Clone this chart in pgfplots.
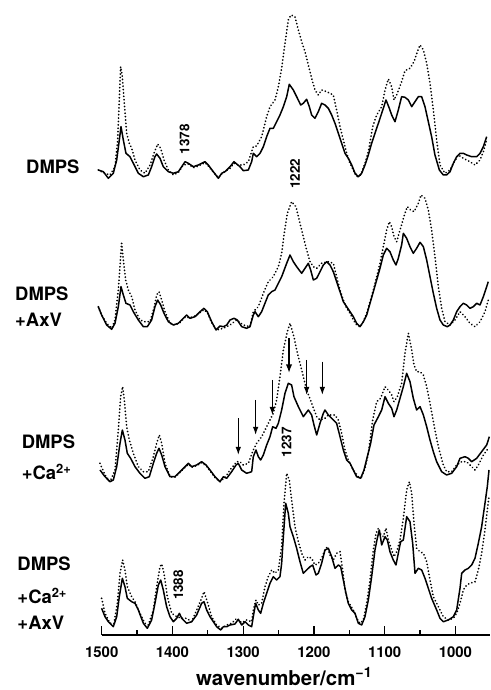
\documentclass[border=0pt]{standalone}
\usepackage{fontspec}
\setmainfont{TeX Gyre Heros}
\usepackage{pgfplots}
\pgfplotsset{compat=1.18}
\usetikzlibrary{arrows.meta}

\pgfplotsset{
  sol/.style={black, line width=1.5pt, line join=round, no marks},
  dot/.style={black, line width=1.85pt, line cap=round, line join=round,
    dash pattern=on 0.1pt off 3.3pt, no marks},
}
\tikzset{
  lbl/.style={anchor=base west, font=\fontsize{18.5}{21}\selectfont\bfseries},
  peak/.style={rotate=90, font=\fontsize{13.5}{15}\selectfont\bfseries},
}

\begin{document}
\begin{tikzpicture}
\begin{axis}[
  at={(0,0)}, anchor=south west, scale only axis,
  width=388.3bp, height=635bp,
  xmin=951.1, xmax=1500, x dir=reverse,
  ymin=0, ymax=635,
  axis x line*=bottom, axis y line=none,
  axis line style={line width=1.2pt},
  xtick={1000,1100,1200,1300,1400,1500},
  minor xtick={1050,1150,1250,1350,1450},
  tick align=inside,
  major tick length=9bp, minor tick length=5bp,
  tick style={black, line width=1.2pt},
  /pgf/number format/assume math mode=true,
  /pgf/number format/1000 sep={},
  xticklabel style={anchor=base, yshift=-22.5bp,
    font=\fontsize{15}{18}\selectfont\bfseries},
  xlabel={wavenumber/cm\textsuperscript{−1}},
  xlabel style={at={(axis description cs:0.47,0)}, anchor=base, yshift=-50bp,
    font=\fontsize{20.5}{24}\selectfont\bfseries},
  clip=false,
]

% ---- DMPS ----
\addplot[sol] coordinates {
(1504.8,465.0) (1497.7,463.3) (1490.6,456.7) (1483.6,461.7) (1478.8,475.0)
(1475.1,495.0) (1472.7,508.3) (1469.4,495.0) (1465.7,481.7) (1460.0,478.3)
(1455.3,471.7) (1448.2,461.7) (1441.1,458.3) (1434.1,460.0) (1429.4,468.3)
(1424.7,478.3) (1422.3,481.0) (1417.6,476.7) (1412.9,468.3) (1405.8,463.3)
(1398.7,461.7) (1391.6,463.3) (1386.9,468.3) (1382.2,473.3) (1377.5,471.7)
(1370.5,468.3) (1363.4,470.0) (1354.0,473.3) (1349.3,470.0) (1342.2,463.3)
(1335.1,456.7) (1330.4,461.7) (1325.7,463.3) (1318.6,468.3) (1313.0,473.3)
(1309.2,471.0) (1304.5,468.3) (1299.8,464.3) (1292.7,465.0) (1288.0,473.3)
(1285.7,481.7) (1281.0,478.3) (1276.2,481.7) (1271.5,488.3) (1266.8,498.3)
(1262.1,506.7) (1257.4,506.7) (1252.7,513.3) (1248.0,520.0) (1243.2,528.3)
(1238.5,538.3) (1234.8,550.7) (1229.1,545.0) (1224.4,538.3) (1218.7,530.0)
(1215.0,531.7) (1210.3,535.7) (1206.5,528.3) (1203.2,520.0) (1198.5,516.7)
(1193.8,523.3) (1189.1,531.7) (1184.4,530.0) (1179.6,526.7) (1174.9,520.0)
(1170.2,511.7) (1165.5,501.7) (1160.8,491.7) (1156.1,481.7) (1151.4,476.7)
(1146.6,470.0) (1141.9,461.7) (1137.2,458.3) (1132.5,461.7) (1127.8,470.0)
(1123.1,480.0) (1118.4,491.7) (1113.7,501.7) (1108.9,511.7) (1104.2,521.7)
(1098.1,535.0) (1093.4,526.7) (1090.1,520.0) (1085.4,513.3) (1080.7,525.0)
(1076.0,538.3) (1071.3,537.7) (1066.5,535.0) (1061.8,528.3) (1057.1,533.3)
(1052.4,538.3) (1047.7,538.3) (1043.0,528.3) (1038.3,513.3) (1033.6,498.3)
(1028.9,480.0) (1022.7,465.0) (1017.1,460.0) (1012.4,460.0) (1007.6,463.3)
(1002.9,471.7) (998.2,478.3) (993.5,481.7) (988.8,481.7) (984.1,480.0)
(977.0,478.3) (969.9,478.3) (965.2,481.7) (960.5,488.3) (955.8,498.3)
};
\addplot[dot] coordinates {
(1504.8,465.0) (1497.7,462.3) (1488.3,460.0) (1481.2,468.3) (1477.4,495.0)
(1475.1,535.0) (1473.2,568.3) (1470.8,558.3) (1468.0,531.7) (1464.7,501.7)
(1460.9,491.7) (1457.6,486.7) (1452.9,475.0) (1445.9,465.0) (1438.8,461.7)
(1431.7,470.0) (1426.1,481.7) (1420.9,491.0) (1416.6,486.7) (1411.9,475.0)
(1405.8,465.0) (1398.7,460.0) (1391.6,462.7) (1384.6,470.0) (1377.5,471.0)
(1370.5,467.3) (1363.4,469.0) (1354.0,472.3) (1349.3,469.0) (1342.2,462.7)
(1335.1,457.3) (1328.0,462.7) (1318.6,466.7) (1313.0,471.7) (1306.9,470.0)
(1299.8,470.0) (1292.7,473.3) (1285.7,488.3) (1281.0,489.0) (1273.9,498.3)
(1266.8,518.3) (1262.1,528.3) (1255.0,535.0) (1250.3,548.3) (1245.6,566.7)
(1240.9,591.7) (1236.2,615.0) (1232.4,620.0) (1226.8,618.3) (1222.0,605.0)
(1217.3,593.3) (1212.6,583.3) (1207.9,570.0) (1203.2,556.7) (1198.5,545.0)
(1193.8,540.0) (1189.1,545.0) (1182.0,543.3) (1172.6,540.0) (1167.9,525.0)
(1163.1,508.3) (1158.4,495.0) (1153.7,481.7) (1149.0,471.7) (1144.3,465.0)
(1139.6,458.3) (1133.9,460.0) (1127.8,471.7) (1123.1,483.3) (1116.9,508.3)
(1111.3,520.0) (1104.2,528.3) (1099.5,545.0) (1094.8,556.0) (1090.1,548.3)
(1086.8,535.0) (1083.0,540.0) (1076.0,553.3) (1071.3,564.3) (1064.2,566.7)
(1058.5,573.3) (1053.8,583.3) (1050.0,590.0) (1045.3,585.0) (1040.6,571.7)
(1035.9,551.7) (1031.2,525.0) (1026.5,495.0) (1021.8,470.0) (1014.7,461.7)
(1007.6,465.0) (1002.9,471.7) (995.8,480.0) (988.8,476.7) (979.4,473.3)
(972.3,470.0) (965.2,475.0) (960.5,483.3) (955.8,495.0)
};

% ---- DMPS + AxV ----
\addplot[sol] coordinates {
(1504.8,328.3) (1500.1,320.0) (1493.0,310.0) (1485.9,305.7) (1481.2,311.7)
(1476.5,328.3) (1472.7,348.3) (1469.4,340.0) (1465.7,331.7) (1460.0,330.0)
(1455.3,323.3) (1448.2,315.0) (1441.1,308.3) (1435.5,308.3) (1429.4,315.0)
(1424.7,328.3) (1420.9,335.0) (1416.6,330.0) (1411.9,321.7) (1405.8,313.3)
(1398.7,310.0) (1391.6,311.7) (1384.6,316.7) (1379.9,320.0) (1375.2,316.7)
(1368.1,318.3) (1361.0,323.3) (1355.4,326.7) (1350.7,323.3) (1344.6,313.3)
(1338.4,305.0) (1332.8,309.0) (1328.0,308.3) (1323.3,310.0) (1318.6,315.0)
(1313.0,316.7) (1308.3,315.0) (1302.1,308.3) (1295.1,306.7) (1290.4,308.3)
(1285.7,320.0) (1283.3,323.3) (1278.6,318.3) (1273.9,323.3) (1269.2,331.7)
(1264.5,340.0) (1259.7,343.3) (1255.0,345.0) (1250.3,351.7) (1245.6,358.3)
(1238.5,371.7) (1233.8,380.0) (1229.1,373.3) (1224.4,368.3) (1217.3,361.7)
(1212.6,366.7) (1207.9,371.7) (1204.6,365.0) (1200.8,355.0) (1196.1,356.7)
(1191.4,363.3) (1186.7,370.0) (1182.0,373.3) (1177.3,370.0) (1172.6,363.3)
(1167.9,353.3) (1163.1,343.3) (1158.4,333.3) (1153.7,328.3) (1149.0,323.3)
(1144.3,318.3) (1139.6,311.7) (1134.8,308.3) (1130.1,313.3) (1125.4,320.0)
(1120.7,331.7) (1116.0,343.3) (1111.3,355.0) (1106.6,366.7) (1101.9,380.0)
(1097.2,386.7) (1092.5,383.3) (1087.8,375.0) (1084.0,370.0) (1080.7,376.7)
(1076.0,390.0) (1073.6,401.7) (1068.9,396.7) (1064.2,388.3) (1059.5,381.7)
(1054.8,386.7) (1050.0,392.7) (1045.3,388.3) (1040.6,375.0) (1035.9,358.3)
(1031.2,341.7) (1026.5,326.7) (1021.8,315.0) (1017.1,310.0) (1011.4,308.3)
(1007.6,310.0) (1002.9,315.0) (998.2,323.3) (993.5,328.3) (988.8,331.7)
(984.1,330.0) (979.4,326.7) (974.7,328.3) (969.9,331.7) (965.2,330.0)
(960.5,338.3) (953.5,353.3)
};
\addplot[dot] coordinates {
(1504.8,328.3) (1500.1,320.0) (1493.0,311.7) (1485.9,306.7) (1481.2,315.0)
(1476.5,345.0) (1473.2,378.3) (1471.8,391.7) (1469.4,375.0) (1466.1,355.0)
(1462.4,345.0) (1457.6,338.3) (1452.9,325.0) (1445.9,315.0) (1438.8,313.3)
(1431.7,313.3) (1425.6,328.3) (1422.3,340.0) (1419.0,343.3) (1415.2,335.0)
(1410.5,323.3) (1403.4,311.7) (1396.4,310.0) (1389.3,312.3) (1382.2,317.7)
(1375.2,317.3) (1368.1,319.0) (1361.0,322.3) (1355.4,325.3) (1350.7,322.3)
(1344.6,312.3) (1337.5,305.0) (1328.0,306.7) (1318.6,310.0) (1309.2,315.0)
(1299.8,310.0) (1290.4,308.3) (1285.7,323.3) (1278.6,328.3) (1271.5,341.7)
(1264.5,353.3) (1257.4,358.3) (1250.3,368.3) (1245.6,381.7) (1242.3,400.0)
(1237.6,421.7) (1231.5,433.3) (1225.3,428.3) (1219.7,411.7) (1215.0,398.3)
(1210.3,385.0) (1205.5,373.3) (1200.8,368.3) (1196.1,366.7) (1189.1,371.7)
(1179.6,373.3) (1172.6,371.7) (1167.9,358.3) (1163.1,345.0) (1158.4,335.0)
(1153.7,326.7) (1149.0,321.7) (1144.3,315.0) (1139.6,310.0) (1134.8,308.3)
(1130.1,313.3) (1125.4,321.7) (1120.7,333.3) (1116.0,345.0) (1111.3,358.3)
(1106.6,371.7) (1101.9,388.3) (1097.2,405.0) (1093.4,413.3) (1090.1,408.3)
(1086.8,398.3) (1083.0,393.3) (1078.3,405.0) (1071.3,421.7) (1068.0,428.3)
(1063.2,425.0) (1058.5,423.3) (1052.4,431.7) (1048.6,440.0) (1043.0,436.7)
(1038.3,425.0) (1033.6,405.0) (1028.9,378.3) (1024.1,348.3) (1019.4,326.7)
(1014.7,313.3) (1007.6,310.0) (1000.6,315.0) (993.5,323.3) (986.4,318.3)
(979.4,311.7) (972.3,308.3) (965.2,313.3) (958.2,323.3) (953.5,335.0)
};

% ---- DMPS + Ca2+ ----
\addplot[sol] coordinates {
(1502.4,165.0) (1495.3,158.3) (1488.3,153.3) (1483.6,155.0) (1478.8,168.3)
(1474.1,191.7) (1470.8,205.0) (1467.1,195.0) (1463.8,181.7) (1459.1,176.7)
(1452.9,168.3) (1445.9,161.7) (1438.8,156.7) (1432.7,158.3) (1427.0,171.7)
(1422.3,181.7) (1419.0,186.7) (1415.2,180.0) (1410.5,168.3) (1403.4,158.3)
(1396.4,158.3) (1389.3,163.3) (1382.2,168.3) (1377.5,171.7) (1372.8,168.3)
(1365.8,170.0) (1358.7,173.3) (1352.5,170.0) (1346.9,165.0) (1339.8,158.3)
(1332.8,153.3) (1328.0,158.3) (1323.3,156.7) (1316.3,163.3) (1310.1,170.0)
(1306.9,171.7) (1302.1,165.0) (1295.1,161.7) (1288.0,163.3) (1285.7,178.3)
(1281.9,185.0) (1278.6,178.3) (1275.3,175.0) (1271.5,180.0) (1266.8,190.0)
(1262.1,198.3) (1258.3,208.3) (1253.6,206.7) (1250.3,211.7) (1245.6,225.0)
(1240.9,241.7) (1236.2,251.7) (1231.5,250.0) (1228.2,238.3) (1222.0,228.3)
(1215.0,218.3) (1207.9,225.0) (1203.2,220.0) (1199.9,210.0) (1196.1,200.0)
(1191.4,211.7) (1186.7,221.7) (1184.4,225.0) (1179.6,220.0) (1174.9,216.7)
(1167.9,211.7) (1163.1,198.3) (1158.4,185.0) (1153.7,175.0) (1149.0,171.7)
(1144.3,165.0) (1139.6,158.3) (1133.9,156.7) (1129.2,165.0) (1124.5,178.3)
(1119.8,191.7) (1115.1,210.0) (1108.9,218.3) (1104.2,225.0) (1099.5,238.3)
(1094.8,231.7) (1090.1,226.7) (1086.8,218.3) (1083.0,225.0) (1078.3,236.7)
(1073.6,248.3) (1068.9,261.7) (1064.2,253.3) (1059.5,236.7) (1054.8,225.0)
(1050.0,228.3) (1045.3,220.0) (1040.6,208.3) (1035.9,195.0) (1031.2,183.3)
(1026.5,173.3) (1019.4,163.3) (1012.4,160.0) (1005.3,161.7) (998.2,168.3)
(993.5,176.7) (986.4,178.3) (981.7,176.7) (977.0,173.3) (969.9,176.7)
(962.9,183.3) (955.8,190.0) (952.0,198.3)
};
\addplot[dot] coordinates {
(1502.4,171.7) (1495.3,160.0) (1488.3,153.3) (1481.2,165.0) (1476.5,205.0)
(1473.2,238.3) (1470.4,248.3) (1468.0,235.0) (1464.7,208.3) (1460.9,195.0)
(1455.3,181.7) (1448.2,168.3) (1441.1,163.3) (1434.1,163.3) (1427.0,178.3)
(1422.3,191.7) (1418.5,200.0) (1415.2,191.7) (1410.5,171.7) (1403.4,158.3)
(1396.4,157.7) (1389.3,162.7) (1382.2,167.7) (1377.5,170.7) (1372.8,167.7)
(1365.8,169.3) (1358.7,172.3) (1352.5,169.3) (1346.9,164.0) (1339.8,157.3)
(1332.8,153.3) (1325.7,157.3) (1318.6,165.0) (1309.2,173.3) (1304.5,173.3)
(1299.8,170.0) (1292.7,171.7) (1285.7,185.0) (1281.0,191.7) (1273.9,198.3)
(1266.8,208.3) (1262.1,215.0) (1257.4,221.7) (1252.7,235.0) (1248.0,258.3)
(1243.2,285.0) (1237.6,303.3) (1233.8,311.7) (1228.2,298.3) (1224.4,285.0)
(1217.3,265.0) (1210.3,245.0) (1203.2,231.7) (1196.1,218.3) (1191.4,215.0)
(1184.4,216.7) (1179.6,220.0) (1170.2,220.0) (1165.5,215.0) (1160.8,201.7)
(1156.1,185.0) (1151.4,175.0) (1144.3,165.0) (1137.2,158.3) (1132.5,158.3)
(1127.8,166.7) (1123.1,181.7) (1116.9,215.0) (1111.3,233.3) (1105.7,236.7)
(1099.5,248.3) (1094.8,245.0) (1090.1,240.0) (1086.8,233.3) (1082.1,238.3)
(1076.0,251.7) (1071.3,281.7) (1066.5,301.7) (1061.8,285.0) (1058.5,270.0)
(1054.8,263.3) (1050.0,263.3) (1045.3,260.0) (1040.6,248.3) (1035.9,231.7)
(1028.9,205.0) (1024.1,188.3) (1017.1,170.0) (1012.4,163.3) (1005.3,163.3)
(998.2,170.0) (991.1,173.3) (984.1,173.3) (977.0,168.3) (972.3,165.0)
(967.6,170.0) (960.5,180.0) (953.5,186.7)
};

% ---- DMPS + Ca2+ + AxV ----
\addplot[sol] coordinates {
(1500.1,26.7) (1495.3,18.3) (1490.6,13.3) (1483.6,8.3) (1478.8,18.3)
(1475.1,38.3) (1470.8,56.7) (1467.1,48.3) (1463.8,36.7) (1457.6,33.3)
(1452.9,31.7) (1448.2,25.0) (1441.1,11.7) (1435.5,6.7) (1429.4,15.0)
(1424.7,31.7) (1419.9,50.0) (1416.6,55.0) (1412.9,45.0) (1408.2,28.3)
(1403.4,18.3) (1398.7,13.3) (1394.0,16.7) (1390.2,21.7) (1386.9,16.7)
(1379.9,11.7) (1372.8,13.3) (1365.8,20.0) (1358.7,31.7) (1355.4,33.3)
(1351.6,25.0) (1346.9,18.3) (1342.2,13.3) (1337.5,8.3) (1331.8,5.0)
(1328.0,8.3) (1323.3,8.3) (1318.6,10.0) (1311.6,11.0) (1306.9,15.7)
(1302.1,10.0) (1297.4,13.3) (1292.7,10.0) (1288.0,8.3) (1285.7,18.3)
(1282.4,31.7) (1278.6,25.0) (1275.3,21.7) (1271.5,31.7) (1266.8,41.7)
(1262.1,51.7) (1257.4,58.3) (1252.7,55.0) (1248.0,58.3) (1245.6,71.7)
(1243.2,98.3) (1239.9,131.7) (1236.2,121.7) (1233.8,108.3) (1229.1,98.3)
(1224.4,86.7) (1219.7,73.3) (1215.0,61.7) (1210.3,65.0) (1205.5,68.3)
(1201.8,70.0) (1197.1,60.0) (1193.8,61.7) (1189.1,71.7) (1184.4,85.0)
(1179.6,86.7) (1174.9,78.3) (1170.2,66.7) (1165.5,70.0) (1162.2,68.3)
(1158.4,55.0) (1154.7,41.7) (1151.4,31.7) (1146.6,25.0) (1141.9,21.7)
(1137.2,11.7) (1132.5,10.0) (1127.8,18.3) (1123.1,35.0) (1118.4,58.3)
(1113.7,85.0) (1110.4,96.7) (1107.5,105.0) (1104.2,90.0) (1099.5,98.3)
(1096.2,95.0) (1092.5,83.3) (1087.8,75.0) (1084.0,70.0) (1080.7,81.7)
(1077.4,93.3) (1073.6,95.0) (1068.9,118.3) (1064.2,113.3) (1060.4,91.7)
(1057.1,61.7) (1052.4,66.7) (1047.7,65.0) (1043.0,56.7) (1038.3,46.7)
(1033.6,36.7) (1026.5,25.0) (1021.8,16.7) (1017.1,13.3) (1010.0,15.0)
(1002.9,18.3) (998.2,25.0) (993.5,46.7) (991.1,61.7) (986.4,65.0)
(981.7,66.7) (977.0,70.0) (972.3,76.7) (967.6,91.7) (962.9,108.3)
(958.2,131.7) (954.9,148.3) (952.5,165.0)
};
\addplot[dot] coordinates {
(1500.1,36.7) (1495.3,21.7) (1488.3,11.7) (1482.6,11.7) (1477.9,31.7)
(1474.1,61.7) (1470.4,75.0) (1467.1,65.0) (1463.8,48.3) (1457.6,38.3)
(1452.9,33.3) (1445.9,21.7) (1438.8,11.7) (1434.1,10.0) (1427.0,25.0)
(1422.3,48.3) (1417.6,68.3) (1415.2,71.0) (1411.9,61.7) (1407.2,38.3)
(1401.1,21.7) (1394.0,18.3) (1386.9,16.7) (1379.9,16.7) (1372.8,13.3)
(1365.8,25.0) (1358.7,36.7) (1355.4,43.3) (1350.7,33.3) (1344.6,18.3)
(1337.5,10.0) (1330.4,6.7) (1323.3,10.0) (1316.3,11.7) (1309.2,16.7)
(1302.1,12.3) (1295.1,15.0) (1288.0,13.3) (1285.7,25.0) (1281.9,35.0)
(1278.6,30.0) (1273.9,31.7) (1269.2,48.3) (1264.5,58.3) (1259.7,65.0)
(1255.0,61.7) (1250.3,65.0) (1245.6,88.3) (1242.3,131.7) (1238.5,161.7)
(1234.8,155.0) (1231.5,135.0) (1226.8,108.3) (1222.0,93.3) (1217.3,81.7)
(1212.6,75.0) (1207.9,78.3) (1203.2,76.7) (1198.5,70.0) (1193.8,71.7)
(1189.1,76.7) (1184.4,85.0) (1181.1,88.3) (1177.3,80.0) (1172.6,75.0)
(1167.9,81.7) (1163.1,83.3) (1159.4,65.0) (1156.1,45.0) (1151.4,33.3)
(1144.3,25.0) (1139.6,16.7) (1134.8,11.7) (1130.1,15.0) (1125.4,31.7)
(1120.7,55.0) (1116.0,85.0) (1112.2,101.7) (1108.9,106.7) (1106.6,101.7)
(1101.9,98.3) (1098.1,106.7) (1094.8,95.0) (1090.1,85.0) (1086.8,78.3)
(1083.0,83.3) (1078.3,95.0) (1073.6,116.7) (1068.9,145.0) (1065.1,153.3)
(1061.8,141.7) (1058.5,111.7) (1054.8,86.7) (1050.0,83.3) (1045.3,81.7)
(1040.6,73.3) (1035.9,55.0) (1031.2,38.3) (1024.1,28.3) (1017.1,18.3)
(1010.0,15.0) (1002.9,16.7) (998.2,21.7) (993.5,31.7) (988.8,45.0)
(984.1,50.0) (979.4,51.7) (972.3,53.3) (967.6,65.0) (962.9,81.7)
(958.2,105.0) (954.9,125.0) (952.5,138.3)
};

% sample labels
\node[lbl] at (axis cs:1611.7,461.7) {DMPS};
\node[lbl] at (axis cs:1627.2,334.3) {DMPS};
\node[lbl] at (axis cs:1627.2,308.3) {+AxV};
\node[lbl] at (axis cs:1617.9,186.7) {DMPS};
\node[lbl] at (axis cs:1617.9,155.0) {+Ca\textsuperscript{2+}};
\node[lbl] at (axis cs:1624.0,65.0) {DMPS};
\node[lbl] at (axis cs:1624.0,31.7) {+Ca\textsuperscript{2+}};
\node[lbl] at (axis cs:1624.0,6.0) {+AxV};

% band positions
\node[peak] at (axis cs:1382.7,495.7) {1378};
\node[peak] at (axis cs:1226.8,461.0) {1222};
\node[peak] at (axis cs:1238.5,192.7) {1237};
\node[peak] at (axis cs:1391.7,50.0) {1388};

% arrows
\draw[line width=1.3pt, -{Latex[length=8bp,width=5.5bp]}] (axis cs:1306.9,216.7) -- (axis cs:1306.9,180);
\draw[line width=1.3pt, -{Latex[length=8bp,width=5.5bp]}] (axis cs:1282.4,235) -- (axis cs:1282.4,200);
\draw[line width=1.3pt, -{Latex[length=8bp,width=5.5bp]}] (axis cs:1258.8,255) -- (axis cs:1258.8,220);
\draw[line width=1.8pt, -{Latex[length=9bp,width=6.5bp]}] (axis cs:1235.2,296.7) -- (axis cs:1235.2,261.7);
\draw[line width=1.3pt, -{Latex[length=8bp,width=5.5bp]}] (axis cs:1210.3,275) -- (axis cs:1210.3,240);
\draw[line width=1.3pt, -{Latex[length=8bp,width=5.5bp]}] (axis cs:1188.1,273.3) -- (axis cs:1188.1,240);
\end{axis}
\pgfresetboundingbox
\useasboundingbox (-101.7bp,-55bp) rectangle (389.3bp,635bp);
\end{tikzpicture}
\end{document}
